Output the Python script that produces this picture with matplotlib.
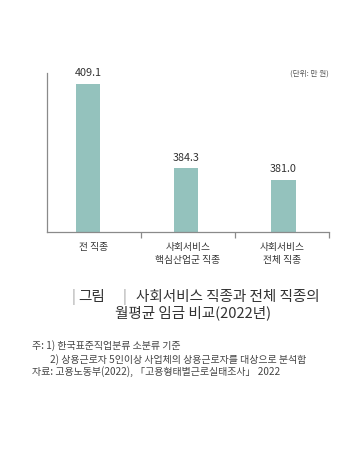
import matplotlib.pyplot as plt
import numpy as np

plt.rcParams['font.family'] = ['Noto Sans CJK KR', 'DejaVu Sans']

categories = ['전 직종', '사회서비스\n핵심산업군 직종', '사회서비스\n전체 직종']
values = [409.1, 384.3, 381.0]
value_labels = ['409.1', '384.3', '381.0']

fig = plt.figure(figsize=(3.59, 4.54), dpi=100)
ax = fig.add_axes([0.130, 0.4883, 0.7856, 0.3509])

# bars sit a little left of the category centres in the original
x = np.arange(len(values)) * 1.04 - 0.06
ax.bar(x, values, width=0.26, color='#94c2bd', edgecolor='none')
for xi, v, lab in zip(x, values, value_labels):
    ax.text(xi, v + 1.6, lab, ha='center', va='bottom', fontsize=7.8, color='#333333')

ax.set_xlim(-0.5, 2.5)
ax.set_ylim(365.5, 412.3)

for s in ['top', 'right']:
    ax.spines[s].set_visible(False)
for s in ['left', 'bottom']:
    ax.spines[s].set_color('#8a8a8a')
    ax.spines[s].set_linewidth(0.9)

ax.set_yticks([])
ax.set_xticks([0.5, 1.5, 2.5])
ax.set_xticklabels([])
ax.tick_params(axis='x', which='major', length=4.5, width=0.9, color='#8a8a8a', direction='out')
ax.set_xticks([0, 1, 2], minor=True)
ax.set_xticklabels(categories, minor=True, fontsize=7, color='#333333', linespacing=1.35)
ax.tick_params(axis='x', which='minor', length=0, pad=7)

ax.text(1.0, 0.995, '(단위: 만 원)', transform=ax.transAxes, ha='right', va='center',
        fontsize=5.5, color='#555555')

# title
fs = 10.5
fig.text(0.198, 0.346, '|', fontsize=fs, color='#999999', ha='left', va='center')
fig.text(0.218, 0.346, '그림', fontsize=fs, color='#333333', ha='left', va='center')
fig.text(0.340, 0.346, '|', fontsize=fs, color='#999999', ha='left', va='center')
fig.text(0.380, 0.346, '사회서비스 직종과 전체 직종의', fontsize=fs, color='#333333',
         ha='left', va='center')
fig.text(0.538, 0.310, '월평균 임금 비교(2022년)', fontsize=fs, color='#333333',
         ha='center', va='center')

# notes
nfs = 7.2
fig.text(0.088, 0.238, '주: 1) 한국표준직업분류 소분류 기준', fontsize=nfs, color='#444444',
         ha='left', va='center')
fig.text(0.139, 0.209, '2) 상용근로자 5인이상 사업체의 상용근로자를 대상으로 분석함',
         fontsize=nfs, color='#444444', ha='left', va='center')
fig.text(0.088, 0.181, '자료: 고용노동부(2022), 「고용형태별근로실태조사」 2022', fontsize=nfs,
         color='#444444', ha='left', va='center')

fig.savefig('out.png', dpi=100)
